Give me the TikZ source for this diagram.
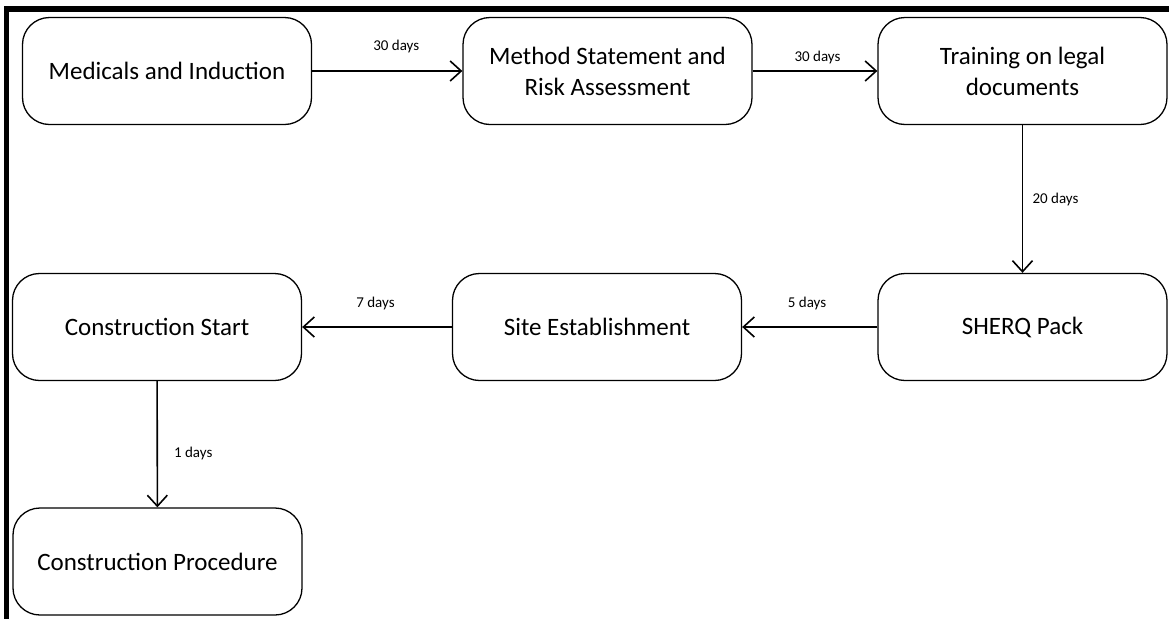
\documentclass[tikz,border=0pt]{standalone}
\usepackage{fontspec}
\setmainfont{Carlito}
\usepackage{tikz}
\usetikzlibrary{arrows.meta}
\usetikzlibrary{positioning}
\tikzset{stage/.style = {draw, line width = 1.3pt, rounded corners = 27pt, minimum width = 289pt, minimum height = 107pt, align = center, font = \fontsize{25}{31}\selectfont}}
\tikzset{days/.style = {font = \fontsize{15}{18}\selectfont, inner sep = 0}}
\tikzset{flow/.style = {line width = 1.6pt, -{Straight Barb[length = 11pt, width = 20pt]}}}

\begin{document}
\begin{tikzpicture}[x = 1pt, y = -1pt]
      \useasboundingbox (0, 0) rectangle (1169, 619);
      \fill (5, 6) rectangle (1169, 12);
      \fill (4, 6) rectangle (9, 619);

      \node [stage] (medicals) at (167, 71) {Medicals and Induction};
      \node [stage] (method) at (607.5, 71) {Method Statement and\\Risk Assessment};
      \node [stage] (training) at (1022.5, 71) {Training on legal\\documents};
      \node [stage] (sherq) at (1022.5, 327) {SHERQ Pack};
      \node [stage] (site) at (597, 327) {Site Establishment};
      \node [stage] (cstart) at (157, 327) {Construction Start};
      \node [stage] (cproc) at (157.5, 561.5) {Construction Procedure};

      \draw [flow] (medicals) -- node [days, pos = 0.56, yshift = 25pt] (d1) {30 days} (method);
      \draw [flow] (method) -- node [days, pos = 0.52, yshift = 14pt] (d2) {30 days} (training);
      \draw [flow] (training) -- node [days, pos = 0.5, xshift = 33pt] (d3) {20 days} (sherq);
      \draw [flow] (sherq) -- node [days, pos = 0.52, yshift = 24pt] (d4) {5 days} (site);
      \draw [flow] (site) -- node [days, pos = 0.51, yshift = 24pt] (d5) {7 days} (cstart);
      \draw [flow] (cstart) -- node [days, pos = 0.57, xshift = 36pt] (d6) {1 days} (cproc);
    \end{tikzpicture}
\end{document}
